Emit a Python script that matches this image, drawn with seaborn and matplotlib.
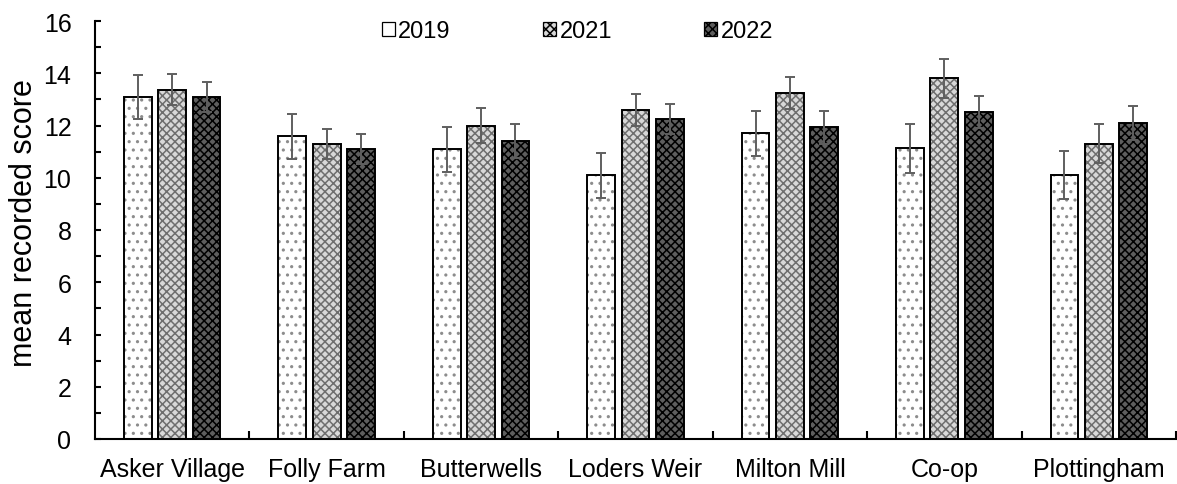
import matplotlib
matplotlib.use("Agg")
import matplotlib.pyplot as plt
from matplotlib.patches import Patch, Rectangle
from matplotlib.ticker import MultipleLocator, FixedLocator
import pandas as pd
import seaborn as sns

# Survey sites and years
sites = ["Asker Village", "Folly Farm", "Butterwells", "Loders Weir",
         "Milton Mill", "Co-op", "Plottingham"]
years = ["2019", "2021", "2022"]

# Mean recorded score per site for each year
score_2019 = [13.10, 11.59, 11.09, 10.09, 11.70, 11.13, 10.10]
score_2021 = [13.37, 11.29, 11.99, 12.60, 13.25, 13.81, 11.30]
score_2022 = [13.10, 11.09, 11.41, 12.26, 11.93, 12.52, 12.10]

# Error (half-width of the error bar) per site for each year
err_2019 = [0.85, 0.86, 0.86, 0.86, 0.85, 0.93, 0.92]
err_2021 = [0.60, 0.58, 0.67, 0.60, 0.62, 0.74, 0.75]
err_2022 = [0.57, 0.58, 0.65, 0.57, 0.62, 0.62, 0.65]

y_ticks = [0, 2, 4, 6, 8, 10, 12, 14, 16]

scores = {"2019": score_2019, "2021": score_2021, "2022": score_2022}
errors = {"2019": err_2019, "2021": err_2021, "2022": err_2022}

df = pd.DataFrame(
    [(s, y, scores[y][i]) for y in years for i, s in enumerate(sites)],
    columns=["site", "year", "score"],
)

sns.set_style("white")
plt.rcParams["font.family"] = ["Liberation Sans", "DejaVu Sans"]
plt.rcParams["hatch.linewidth"] = 1.1
for key in ["text.color", "axes.labelcolor", "xtick.color", "ytick.color"]:
    plt.rcParams[key] = "black"

# fill, hatch and hatch colour for each year
styles = {
    "2019": dict(face="white", hatch="..", hcolor="#8c8c8c"),
    "2021": dict(face="#d8d8d8", hatch="xxxx", hcolor="#6e6e6e"),
    "2022": dict(face="#5e5e5e", hatch="xxxx", hcolor="#000000"),
}

fig = plt.figure(figsize=(11.77, 4.85), dpi=100)
ax = fig.add_axes([95 / 1177, 45 / 485, 1081 / 1177, 418 / 485])

sns.barplot(
    data=df, x="site", y="score", hue="year", order=sites, hue_order=years,
    palette={y: styles[y]["face"] for y in years}, saturation=1,
    width=0.667, gap=0.19, errorbar=None, legend=False, ax=ax,
)

for year, container in zip(years, ax.containers):
    st = styles[year]
    xs, hs = [], []
    for bar in container:
        bar.set_hatch(st["hatch"])
        bar.set_edgecolor(st["hcolor"])
        bar.set_linewidth(0)
        bar.set_zorder(2)
        ax.add_patch(Rectangle((bar.get_x(), bar.get_y()), bar.get_width(),
                               bar.get_height(), fill=False, edgecolor="black",
                               linewidth=1.4, zorder=3))
        xs.append(bar.get_x() + bar.get_width() / 2)
        hs.append(bar.get_height())
    ax.errorbar(xs, hs, yerr=errors[year], fmt="none", ecolor="#5f5f5f",
                elinewidth=1.4, capsize=3.8, capthick=1.4, zorder=4)

ax.set_xlim(-0.5, len(sites) - 0.5)
ax.set_ylim(0, 16)
ax.set_yticks(y_ticks)
ax.yaxis.set_minor_locator(MultipleLocator(1))
ax.xaxis.set_minor_locator(FixedLocator([i + 0.5 for i in range(len(sites))]))

for side in ["top", "right"]:
    ax.spines[side].set_visible(False)
for side in ["left", "bottom"]:
    ax.spines[side].set_linewidth(1.5)
    ax.spines[side].set_color("black")

ax.tick_params(axis="y", which="major", direction="in", length=4, width=1.5,
               labelsize=18, pad=17, left=True, colors="black")
ax.tick_params(axis="y", which="minor", direction="in", length=4, width=1.5,
               left=True, colors="black")
ax.tick_params(axis="x", which="major", length=0, labelsize=18, pad=13,
               colors="black")
ax.tick_params(axis="x", which="minor", direction="in", length=6, width=1.5,
               bottom=True, colors="black")

ax.set_xlabel("")
ax.set_ylabel("mean recorded score", fontsize=22, color="black")
ax.yaxis.set_label_coords(-0.052, 0.52)

handles = [Patch(facecolor=styles[y]["face"],
                 hatch=styles[y]["hatch"] if y != "2019" else None,
                 edgecolor="black", linewidth=0.9) for y in years]
ax.legend(handles, years, loc="center", bbox_to_anchor=(0.4463, 0.976),
          ncol=3, frameon=False, fontsize=17, handlelength=0.55,
          handleheight=0.55, handletextpad=0.15, columnspacing=3.9,
          borderpad=0, labelcolor="black")

fig.savefig("out.png", dpi=100)
